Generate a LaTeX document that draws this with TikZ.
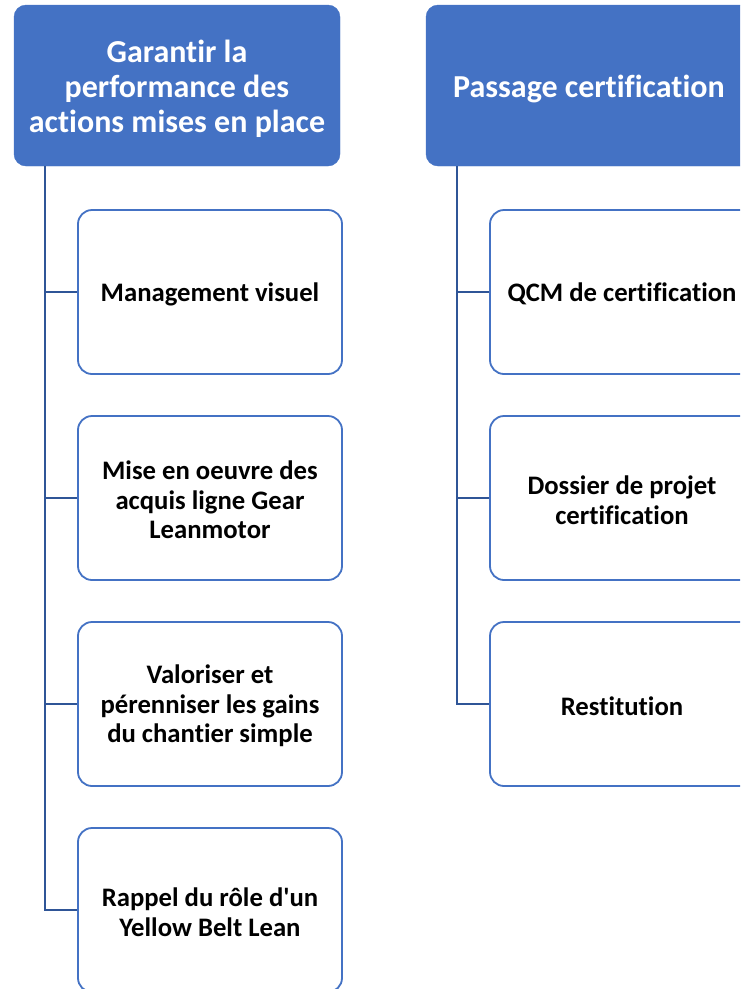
\documentclass[tikz,border=0pt]{standalone}
\usepackage{fontspec}
\setmainfont{Carlito}[Ligatures=NoCommon]
\definecolor{hdr}{HTML}{4472C4}
\definecolor{conn}{HTML}{2F5597}
\begin{document}
\begin{tikzpicture}[x=1pt,y=-1pt,
  header/.style={draw=hdr,fill=hdr,rounded corners=12pt,minimum width=326pt,minimum height=161pt,inner sep=0pt},
  htext/.style={inner sep=0pt,align=center,text=white,font=\fontsize{32}{35}\selectfont\bfseries,yshift=-3pt},
  child/.style={draw=hdr,line width=1.8pt,fill=white,rounded corners=14pt,minimum width=264pt,minimum height=164pt,inner sep=0pt},
  ctext/.style={inner sep=0pt,align=center,text=black,font=\fontsize{26.7}{29.5}\selectfont\bfseries,yshift=-2pt},
  link/.style={draw=conn,line width=1.8pt}]
\useasboundingbox (0,0) rectangle (740,989);
\clip (0,0) rectangle (740,989);
% left column
\node[header] (h1) at (177,85.5) {};
\node[htext] (h1t) at (h1.center) {Garantir la\\performance des\\actions mises en place};
\node[child] (a1) at (210,292) {};
\node[ctext] (a1t) at (a1.center) {Management visuel};
\node[child] (a2) at (210,498) {};
\node[ctext] (a2t) at (a2.center) {Mise en oeuvre des\\acquis ligne Gear\\Leanmotor};
\node[child] (a3) at (210,704) {};
\node[ctext] (a3t) at (a3.center) {Valoriser et\\pérenniser les gains\\du chantier simple};
\node[child] (a4) at (210,910) {};
\node[ctext] (a4t) at (a4.center) {Rappel du rôle d\textquotesingle un\\Yellow Belt Lean};
\coordinate (t1) at (45,166);
\draw[link] (t1) |- (a1.west);
\draw[link] (t1) |- (a2.west);
\draw[link] (t1) |- (a3.west);
\draw[link] (t1) |- (a4.west);
% right column
\node[header] (h2) at (589,85.5) {};
\node[htext] (h2t) at (h2.center) {Passage certification};
\node[child] (b1) at (622,292) {};
\node[ctext] (b1t) at (b1.center) {QCM de certification};
\node[child] (b2) at (622,498) {};
\node[ctext] (b2t) at (b2.center) {Dossier de projet\\certification};
\node[child] (b3) at (622,704) {};
\node[ctext] (b3t) at (b3.center) {Restitution};
\coordinate (t2) at (457,166);
\draw[link] (t2) |- (b1.west);
\draw[link] (t2) |- (b2.west);
\draw[link] (t2) |- (b3.west);
\end{tikzpicture}
\end{document}
